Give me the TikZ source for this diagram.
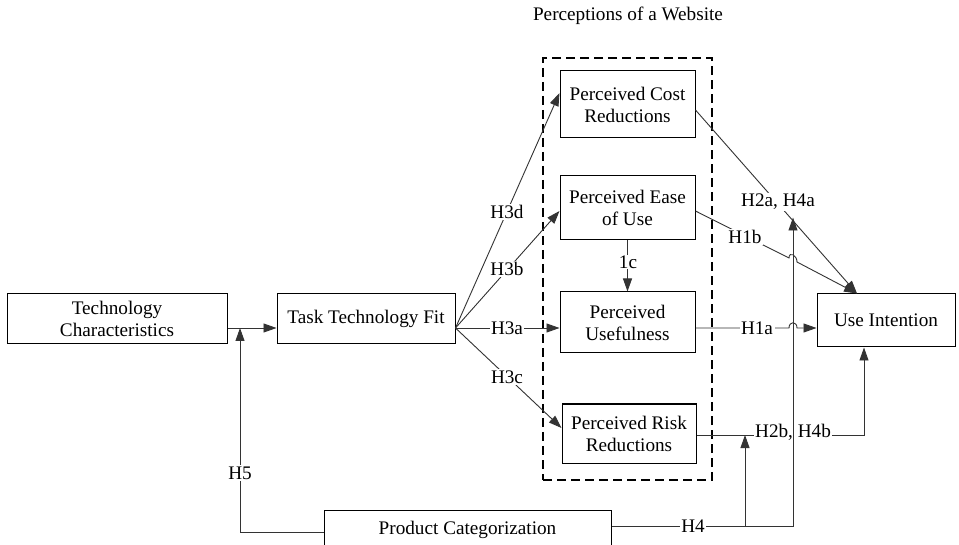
\documentclass[tikz,border=0pt]{standalone}
\usepackage{fontspec}
\setmainfont{Liberation Serif}
\usetikzlibrary{arrows.meta,calc}
\begin{document}
\begin{tikzpicture}[x=1pt,y=-1pt,
  txt/.style={font=\fontsize{19.2}{22}\selectfont},
  box/.style={txt, draw=black, line width=1pt, align=center, inner sep=0pt},
  conn/.style={draw=black!80, line width=0.9pt},
  arr/.style={conn, -{Triangle[length=13pt,width=9pt]}},
  lbl/.style={txt, fill=white, inner sep=1.5pt},
  grp/.style={draw=black, line width=2.8pt, dash pattern=on 9pt off 5pt, inner sep=0pt},
]
\useasboundingbox (0,0) rectangle (959,545);
\fill[white] (0,0) rectangle (959,545);

% group frame and title
\node[grp, minimum width=169pt, minimum height=422pt] (web) at (627.5,269) {};
\node[txt] (title) at (628,16) {Perceptions of a Website};

% boxes
\node[box, minimum width=220pt, minimum height=50pt] (tc) at (117,319) {Technology\\Characteristics};
\node[box, minimum width=178pt, minimum height=50pt] (ttf) at (366,319) {Task Technology Fit};
\node[box, minimum width=135pt, minimum height=67pt] (pcr) at (627.5,104.5) {Perceived Cost\\Reductions};
\node[box, minimum width=135pt, minimum height=64pt] (peu) at (627.5,208) {Perceived Ease\\of Use};
\node[box, minimum width=135pt, minimum height=61pt] (pu) at (627.5,322.5) {Perceived\\Usefulness};
\node[box, minimum width=134pt, minimum height=59pt] (prr) at (629,433.5) {Perceived Risk\\Reductions};
\node[box, minimum width=138pt, minimum height=53pt] (ui) at (886,320.5) {Use Intention};
\node[box, minimum width=287pt, minimum height=40pt] (pc) at (467.5,530) {Product Categorization};

% helper coordinates
\coordinate (ttfo) at ([yshift=-9pt]ttf.east);
\coordinate (tco) at ([yshift=-9pt]tc.east);
\coordinate (h5top) at (240,328);
\coordinate (puo) at (pu.east |- ttfo);
\coordinate (uiw) at (ui.west |- ttfo);
\coordinate (pcro) at ([yshift=-5.5pt]pcr.east);
\coordinate (peuo) at ([yshift=-3pt]peu.east);
\coordinate (prro) at ([yshift=-1.5pt]prr.east);
\coordinate (uin) at ([xshift=-29pt]ui.north);
\coordinate (uib) at ([xshift=-22pt]ui.south);
\coordinate (h4c) at (793,526);
\coordinate (h4b) at (745,526);
\coordinate (m4a) at (793,217.5);
\coordinate (m4b) at (h4b |- prro);

% TC -> TTF and H5
\draw[arr] (tco) -- (ttf.west |- ttfo);
\draw[arr] ([yshift=-2pt]pc.west) -| (h5top);
\node[lbl] (lh5) at (240,473) {H5};

% H3 family
\draw[arr] (ttfo) -- ([yshift=11.5pt]pcr.west);
\draw[arr] (ttfo) -- ([yshift=-3pt]peu.west);
\draw[arr] (ttfo) -- (pu.west |- ttfo);
\draw[arr] (ttfo) -- ([yshift=5.5pt]prr.west);
\node[lbl] (l3d) at (507,212) {H3d};
\node[lbl] (l3b) at (507,269) {H3b};
\node[lbl] (l3a) at (507,328) {H3a};
\node[lbl] (l3c) at (507,377) {H3c};

% 1c
\draw[arr] (peu.south) -- (pu.north);
\node[lbl, inner sep=1pt] (l1c) at (628,262) {1c};

% H2a, H4a
\draw[arr] (pcro) -- (uin);
\node[lbl] (l2a) at (778,202) {H2a, H4a};

% H1b with hop
\draw[arr] (peuo) -- (789,258) .. controls (789,251) and (797,255) .. (797,262) -- (uin);
\node[lbl] (l1b) at (745,237) {H1b};

% H1a with hop
\draw[arr] (puo) -- (789,328) .. controls (789,321) and (797,321) .. (797,328) -- (uiw);
\node[lbl] (l1a) at (757,328) {H1a};

% H2b, H4b
\draw[arr] (prro) -| (uib);
\node[lbl] (l2b) at (793,432) {H2b, H4b};

% H4
\draw[arr] ([yshift=4pt]pc.east) -- (h4c) -- (m4a);
\draw[arr] (h4b) -- (m4b);
\node[lbl] (l4) at (693,526) {H4};
\end{tikzpicture}
\end{document}
